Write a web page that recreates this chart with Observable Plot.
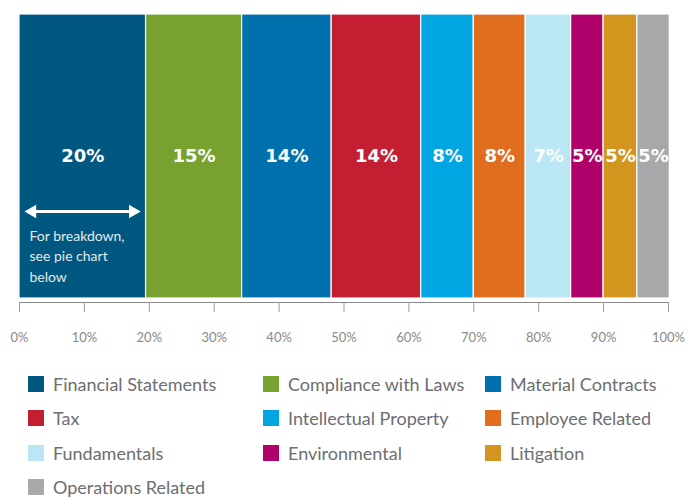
<!DOCTYPE html>
<html>
<head>
<meta charset="utf-8">
<script src="https://cdn.jsdelivr.net/npm/d3@7"></script>
<script src="https://cdn.jsdelivr.net/npm/@observablehq/plot@0.6"></script>
<style>
  html, body { margin: 0; padding: 0; background: #fff; }
  body { width: 692px; font-family: Lato, "Noto Sans", sans-serif; }
  #legend { display: grid; grid-template-columns: 235px 222px 200px; margin: 17px 0 0 28px; row-gap: 0; }
  .item { display: flex; align-items: center; height: 34.3px; font-size: 18px; color: #6d6e71; white-space: nowrap; }
  .sw { width: 16px; height: 16px; margin-right: 9px; flex: none; }
</style>
</head>
<body>
<div id="chart"></div>
<div id="legend"></div>
<script>
const categories = ["Financial Statements", "Compliance with Laws", "Material Contracts", "Tax", "Intellectual Property", "Employee Related", "Fundamentals", "Environmental", "Litigation", "Operations Related"];
const values = [19.5, 14.8, 13.8, 13.8, 8.1, 8.0, 7.0, 5.0, 5.2, 5.0];
const labels = ["20%", "15%", "14%", "14%", "8%", "8%", "7%", "5%", "5%", "5%"];
const colors = ["#00577f", "#78a22f", "#0071ad", "#c41e33", "#00a5e2", "#e16d1f", "#bae7f3", "#b0006a", "#d2951e", "#a8a8aa"];
const xTicks = [0, 10, 20, 30, 40, 50, 60, 70, 80, 90, 100];
const noteText = "For breakdown,\nsee pie chart\nbelow";

const data = categories.map((name, i) => ({name, value: values[i], label: labels[i]}));
const first = data[0];

const chart = Plot.plot({
  width: 692,
  height: 350,
  marginTop: 14,
  marginLeft: 19,
  marginRight: 24,
  marginBottom: 48,
  x: {domain: [0, 100], label: null},
  y: {domain: [0, 1], axis: null},
  color: {domain: categories, range: colors},
  style: {fontFamily: "Lato, 'Noto Sans', sans-serif", background: "white"},
  marks: [
    Plot.rectX(data, {x: "value", y1: 0, y2: 1, fill: "name", stroke: "white", strokeWidth: 1.2, insetBottom: 4}),
    Plot.text(data, Plot.stackX({x: "value", y: 0.5, text: "label", fill: "white", fontSize: 18, fontWeight: "bold", fontFamily: "'DejaVu Sans', sans-serif", dy: -2})),
    // double-headed arrow spanning the first segment
    Plot.link([first], {x1: d => d.value * 0.12, x2: d => d.value * 0.88, y1: 0.316, y2: 0.316, stroke: "white", strokeWidth: 3}),
    Plot.dot([first], {x: d => d.value * 0.101, y: 0.316, symbol: "triangle", r: 5, fill: "white", rotate: -90}),
    Plot.dot([first], {x: d => d.value * 0.896, y: 0.316, symbol: "triangle", r: 5, fill: "white", rotate: 90}),
    Plot.text([noteText], {x: 0, y: 0.266, dx: 10, text: d => d, textAnchor: "start", lineAnchor: "top", lineHeight: 1.48, fontSize: 14, fill: "#e3eaf0"}),
    Plot.ruleY([0], {stroke: "#8a8a8a", strokeWidth: 1.2}),
    Plot.axisX({ticks: xTicks, tickSize: 10, tickPadding: 20, tickFormat: d => d + "%", stroke: "#9a9a9a", fill: "#8a8a8a", fontSize: 13, label: null})
  ]
});
document.getElementById("chart").appendChild(chart);

const legend = document.getElementById("legend");
categories.forEach((c, i) => {
  const item = document.createElement("div");
  item.className = "item";
  const sw = document.createElement("span");
  sw.className = "sw";
  sw.style.background = colors[i];
  item.appendChild(sw);
  item.appendChild(document.createTextNode(c));
  legend.appendChild(item);
});
</script>
</body>
</html>
